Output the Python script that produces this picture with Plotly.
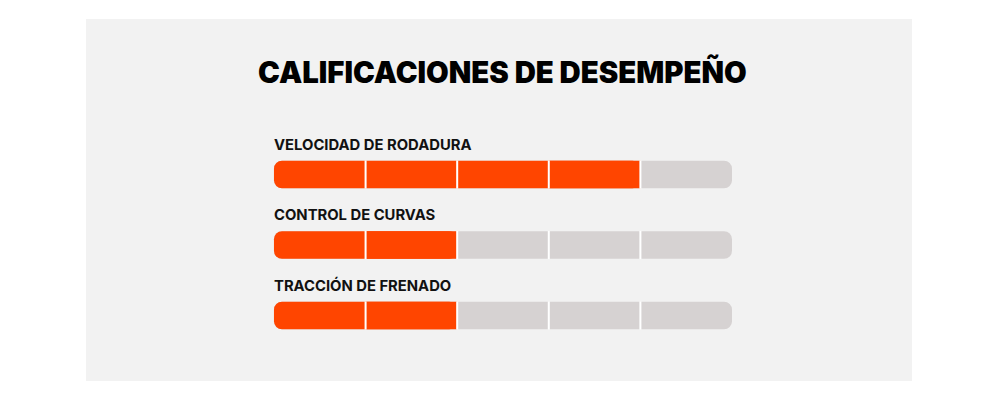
import plotly.graph_objects as go

title = "CALIFICACIONES DE DESEMPEÑO"
categories = ["VELOCIDAD DE RODADURA", "CONTROL DE CURVAS", "TRACCIÓN DE FRENADO"]
ratings = [4, 2, 2]
max_rating = 5

ORANGE = "#FF4500"
GRAY = "#D6D2D2"
BG = "#F2F2F2"

rows = list(range(len(categories)))
n = len(rows)
BW = 0.39

fig = go.Figure()

# full track (explicit base -> all corners rounded)
fig.add_trace(go.Bar(
    orientation="h", y=rows, base=[0] * n, x=[max_rating] * n, width=BW,
    marker=dict(color=GRAY, cornerradius=8, line=dict(width=0)), hoverinfo="skip"))

# filled rating (rounded), then a square patch on its last step (inner end square)
fig.add_trace(go.Bar(
    orientation="h", y=rows, base=[0] * n, x=ratings, width=BW,
    marker=dict(color=ORANGE, cornerradius=8, line=dict(width=0)), hoverinfo="skip"))
patch_rows = [r for r in rows if ratings[r] < max_rating]
patch_len = [1 if ratings[r] > 1 else 0.5 for r in patch_rows]
fig.add_trace(go.Bar(
    orientation="h", y=patch_rows, base=[ratings[r] - L for r, L in zip(patch_rows, patch_len)],
    x=patch_len, width=BW,
    marker=dict(color=ORANGE, line=dict(width=0)), hoverinfo="skip"))

# white separators between the rating steps
sep_w = 0.022
for k in range(1, max_rating):
    fig.add_trace(go.Bar(
        orientation="h", y=rows, base=[k - sep_w / 2] * n, x=[sep_w] * n, width=BW + 0.01,
        marker=dict(color="white", line=dict(width=0)), hoverinfo="skip"))

annotations = []
for r, cat in zip(rows, categories):
    annotations.append(dict(x=0, y=r - 0.42, xref="x", yref="y", text=cat, showarrow=False,
                            xanchor="left", yanchor="middle", xshift=-2,
                            font=dict(family="Inter", size=14.8, color="#111111", weight=700)))
annotations.append(dict(x=0.504, y=0.853, xref="paper", yref="paper", text=title, showarrow=False,
                        xanchor="center", yanchor="middle",
                        font=dict(family="Inter", size=29.3, color="#000000", weight=900)))

fig.update_layout(
    width=1000, height=400,
    margin=dict(l=78, r=96, t=11, b=27),
    paper_bgcolor="white", plot_bgcolor=BG,
    barmode="overlay", showlegend=False,
    xaxis=dict(range=[-2.052, 6.965], visible=False, fixedrange=True),
    yaxis=dict(range=[2.929, -2.206], visible=False, fixedrange=True),
    annotations=annotations,
)

fig.write_html("out.html")
